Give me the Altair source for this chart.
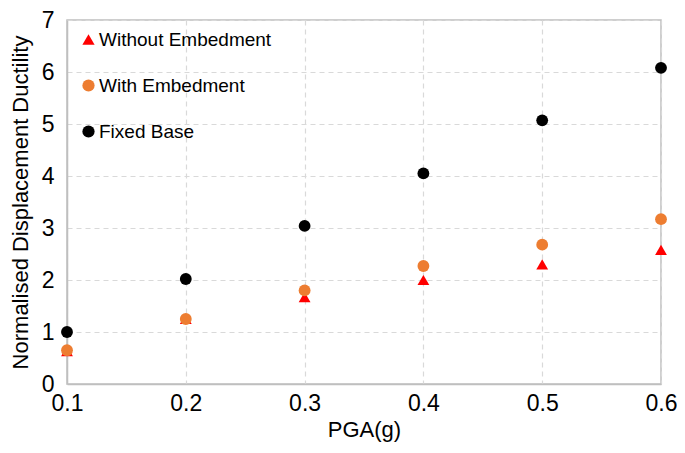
import altair as alt
import pandas as pd

pga = [0.1, 0.2, 0.3, 0.4, 0.5, 0.6]
without_emb = [0.63, 1.25, 1.67, 2.00, 2.30, 2.58]
with_emb = [0.65, 1.25, 1.80, 2.27, 2.68, 3.17]
fixed_base = [1.00, 2.02, 3.04, 4.05, 5.07, 6.08]

series = ["Without Embedment", "With Embedment", "Fixed Base"]
colors = ["#FF0000", "#ED7D31", "#000000"]
shapes = ["triangle-up", "circle", "circle"]

rows = []
for name, vals in zip(series, [without_emb, with_emb, fixed_base]):
    for x, y in zip(pga, vals):
        rows.append({"PGA": x, "Ductility": y, "Series": name})
df = pd.DataFrame(rows)

font = "Liberation Sans"

legend = alt.Legend(title=None, orient="none", legendX=12, legendY=10,
                    labelFontSize=19, symbolSize=150, labelLimit=0,
                    rowPadding=26, padding=0, labelOffset=1,
                    symbolOpacity=1, labelColor="#000000")

chart = alt.Chart(df).mark_point(filled=True, opacity=1, size=140).encode(
    x=alt.X("PGA:Q", title="PGA(g)",
            scale=alt.Scale(domain=[0.1, 0.6], nice=False, zero=False),
            axis=alt.Axis(values=pga, format=".1f", labelFontSize=23,
                          titleFontSize=22, labelPadding=8, titlePadding=4,
                          tickSize=0, labelFlush=False)),
    y=alt.Y("Ductility:Q", title="Normalised Displacement Ductility",
            scale=alt.Scale(domain=[0, 7], nice=False),
            axis=alt.Axis(values=[0, 1, 2, 3, 4, 5, 6, 7], labelFontSize=23,
                          titleFontSize=22, labelPadding=13, titlePadding=9,
                          tickSize=0)),
    color=alt.Color("Series:N", scale=alt.Scale(domain=series, range=colors),
                    legend=legend),
    shape=alt.Shape("Series:N", scale=alt.Scale(domain=series, range=shapes),
                    legend=legend),
    order=alt.Order("order:Q"),
).transform_calculate(
    order="datum.Series == 'Without Embedment' ? 0 : (datum.Series == 'With Embedment' ? 1 : 2)"
).properties(
    width=594, height=364,
    autosize=alt.AutoSizeParams(type="none"),
    padding={"left": 59, "top": 12, "right": 16, "bottom": 60},
).configure_view(
    stroke="#BFBFBF", strokeWidth=1.5
).configure_axis(
    labelFont=font, titleFont=font, labelColor="#000000", titleColor="#000000",
    titleFontWeight="normal",
    domainColor="#BFBFBF", domainWidth=1.5,
    gridColor="#D9D9D9", gridDash=[5, 4], gridWidth=1.2,
).configure_legend(
    labelFont=font
)

chart.save("out.html", embed_options={"renderer": "svg", "actions": False})
